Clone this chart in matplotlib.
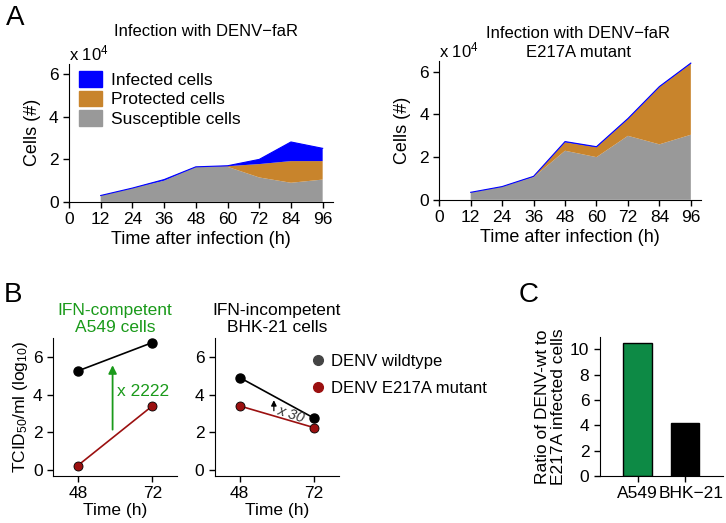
import matplotlib
matplotlib.use("Agg")
import matplotlib.pyplot as plt
import matplotlib.transforms as mtransforms
from matplotlib.patches import Patch
from matplotlib.lines import Line2D

plt.rcParams['font.family'] = ['Liberation Sans', 'DejaVu Sans']
plt.rcParams['font.size'] = 12
plt.rcParams['mathtext.fontset'] = 'custom'
plt.rcParams['mathtext.rm'] = 'Liberation Sans'
plt.rcParams['mathtext.it'] = 'Liberation Sans:italic'

# panel A data (x 10^4 cells)
hours = [12, 24, 36, 48, 60, 72, 84, 96]
wt_susceptible = [0.30, 0.65, 1.00, 1.65, 1.65, 1.15, 0.90, 1.05]
wt_protected = [0.00, 0.00, 0.00, 0.00, 0.03, 0.63, 1.02, 0.87]
wt_infected = [0.00, 0.00, 0.05, 0.00, 0.02, 0.22, 0.90, 0.60]

mut_susceptible = [0.35, 0.62, 1.06, 2.30, 2.00, 3.00, 2.60, 3.05]
mut_protected = [0.00, 0.00, 0.02, 0.40, 0.46, 0.78, 2.68, 3.33]
mut_infected = [0.00, 0.00, 0.02, 0.03, 0.03, 0.03, 0.03, 0.03]

# panel B data (log10 TCID50/ml)
b_times = [48, 72]
a549_wt = [5.25, 6.75]
a549_mut = [0.25, 3.4]
bhk_wt = [4.9, 2.75]
bhk_mut = [3.4, 2.25]

# panel C data
c_cells = ['A549', 'BHK\u221221']
c_ratio = [10.5, 4.15]

GRAY = '#999999'
ORANGE = '#c8842c'
BLUE = '#0000ff'
GREEN_TXT = '#1a9a1a'
GREEN_BAR = '#0d8a45'
DARKRED = '#9b1010'

fig = plt.figure(figsize=(7.26, 5.23), dpi=100)


def style(ax):
    ax.spines['top'].set_visible(False)
    ax.spines['right'].set_visible(False)
    ax.tick_params(direction='out', length=4, width=1, labelsize=12.5)


def area_panel(ax, sus, prot, inf):
    ax.stackplot(hours, sus, prot, inf, colors=[GRAY, ORANGE, BLUE], linewidth=0)
    top = [s + p + i for s, p, i in zip(sus, prot, inf)]
    ax.plot(hours, top, color=BLUE, lw=0.8)
    ax.set_xlim(0, 100)
    ax.set_ylim(0, 6.5)
    ax.set_xticks(range(0, 97, 12))
    ax.set_yticks([0, 2, 4, 6])
    ax.set_xlabel('Time after infection (h)', fontsize=13, labelpad=3)
    ax.set_ylabel('Cells (#)', fontsize=13, labelpad=6)
    ax.text(0, 1.005, 'x 10$^4$', transform=ax.transAxes, fontsize=12, va='bottom')
    style(ax)


axA1 = fig.add_axes([0.095, 0.614, 0.364, 0.264])
area_panel(axA1, wt_susceptible, wt_protected, wt_infected)
axA1.set_title('Infection with DENV\u2212faR', fontsize=12, pad=20, x=0.52)
axA1.legend(handles=[Patch(color=BLUE, label='Infected cells'),
                     Patch(color=ORANGE, label='Protected cells'),
                     Patch(color=GRAY, label='Susceptible cells')],
            loc='upper left', bbox_to_anchor=(0.0, 1.02), frameon=False, fontsize=12.5,
            handlelength=1.3, handleheight=1.0, labelspacing=0.15, handletextpad=0.5,
            borderaxespad=0.2)

axA2 = fig.add_axes([0.605, 0.618, 0.361, 0.265])
area_panel(axA2, mut_susceptible, mut_protected, mut_infected)
axA2.set_title('Infection with DENV\u2212faR\nE217A mutant', fontsize=12, pad=3,
               x=0.53, linespacing=1.3)


def line_panel(ax, wt, mut):
    ax.plot(b_times, wt, color='black', lw=1.2, marker='o', ms=6.5)
    ax.plot(b_times, mut, color=DARKRED, lw=1.2, marker='o', ms=6.5,
            markeredgecolor='black', markeredgewidth=0.6)
    ax.set_xlim(40, 80)
    ax.set_ylim(-0.3, 7)
    ax.set_xticks(b_times)
    ax.set_yticks([0, 2, 4, 6])
    ax.set_xlabel('Time (h)', fontsize=12.5, labelpad=1)
    style(ax)


axB1 = fig.add_axes([0.073, 0.090, 0.171, 0.264])
line_panel(axB1, a549_wt, a549_mut)
axB1.set_ylabel('TCID$_{50}$/ml (log$_{10}$)', fontsize=12.5, labelpad=2)
axB1.set_title('IFN-competent\nA549 cells', fontsize=12.5, color=GREEN_TXT, pad=4)
axB1.annotate('', xy=(59.2, 5.7), xytext=(59.2, 2.0),
              arrowprops=dict(arrowstyle='-|>', color=GREEN_TXT, lw=1.3, mutation_scale=12))
axB1.text(60.5, 4.15, 'x 2222', color=GREEN_TXT, fontsize=12.5, va='center')

axB2 = fig.add_axes([0.296, 0.090, 0.171, 0.264])
line_panel(axB2, bhk_wt, bhk_mut)
axB2.set_title('IFN-incompetent\nBHK-21 cells', fontsize=12.5, pad=4)
axB2.annotate('', xy=(59.0, 3.85), xytext=(59.0, 3.0),
              arrowprops=dict(arrowstyle='-|>', color='black', lw=0.9, mutation_scale=8))
axB2.text(59.6, 2.95, 'x 30', fontsize=10.5, style='italic', rotation=-18, va='center',
          ha='left', color='#333333')
axB2.legend(handles=[Line2D([], [], ls='', marker='o', ms=7, color='#444444',
                            label='DENV wildtype'),
                     Line2D([], [], ls='', marker='o', ms=7, color=DARKRED,
                            label='DENV E217A mutant')],
            loc='upper left', bbox_to_anchor=(0.64, 0.99), frameon=False, fontsize=12,
            handletextpad=0.3, labelspacing=0.7, handlelength=1.0)

axC = fig.add_axes([0.826, 0.090, 0.17, 0.266])
axC.bar([1, 2], c_ratio, width=0.6, color=[GREEN_BAR, 'black'], edgecolor='black', lw=1)
axC.set_xlim(0.2, 2.8)
axC.set_ylim(0, 11)
axC.set_xticks([1, 2])
axC.set_xticklabels(c_cells)
axC.set_yticks(range(0, 11, 2))
axC.set_ylabel('Ratio of DENV-wt to\nE217A infected cells', fontsize=12.5, labelpad=3,
               linespacing=1.1)
style(axC)
# nudge the second category label to the right so it does not touch the first
lbl = axC.get_xticklabels()[1]
lbl.set_transform(lbl.get_transform() +
                  mtransforms.ScaledTranslation(6 / 100, 0, fig.dpi_scale_trans))

fig.text(0.008, 0.965, 'A', fontsize=20, va='center')
fig.text(0.005, 0.436, 'B', fontsize=20, va='center')
fig.text(0.715, 0.436, 'C', fontsize=20, va='center')

fig.savefig('out.png', dpi=100)
